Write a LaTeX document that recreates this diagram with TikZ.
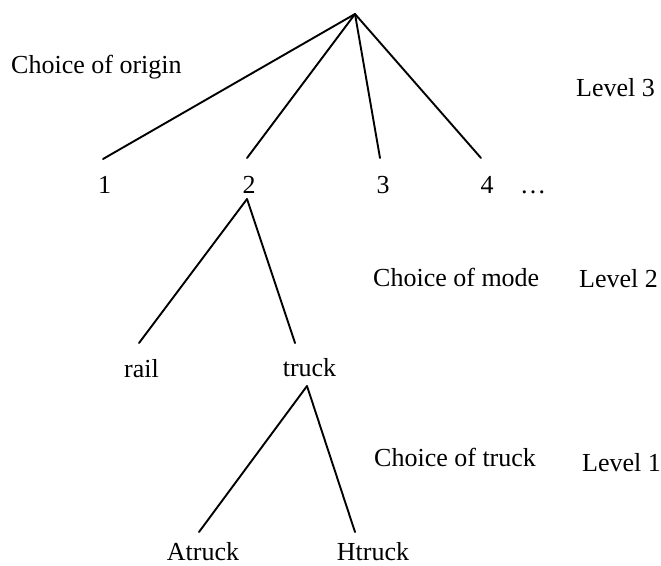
\documentclass[tikz,border=0pt]{standalone}
\usepackage{fontspec}
\setmainfont{Liberation Serif}
\begin{document}
\begin{tikzpicture}[x=1pt,y=-1pt,
  lbl/.style={inner sep=0pt,font=\fontsize{26}{31}\selectfont},
  edge/.style={line width=1.9pt,line cap=round,line join=round}]
\useasboundingbox (0,0) rectangle (661,565);
% text
\node[lbl,anchor=base west] (corigin) at (11,73.5) {Choice of origin};
\node[lbl,anchor=base west] (lev3) at (576,96) {Level 3};
\node[lbl,anchor=base] (n1) at (104.5,193) {1};
\node[lbl,anchor=base] (n2) at (249,193) {2};
\node[lbl,anchor=base] (n3) at (383,193) {3};
\node[lbl,anchor=base] (n4) at (487,193) {4};
\node[lbl,anchor=base] (dots) at (533,193) {…};
\node[lbl,anchor=base west] (cmode) at (373,286) {Choice of mode};
\node[lbl,anchor=base west] (lev2) at (579,287) {Level 2};
\node[lbl,anchor=base] (rail) at (141.5,377) {rail};
\node[lbl,anchor=base] (truck) at (309.5,376) {truck};
\node[lbl,anchor=base west] (ctruck) at (374,466) {Choice of truck};
\node[lbl,anchor=base west] (lev1) at (582,471) {Level 1};
\node[lbl,anchor=base] (atruck) at (203,560) {Atruck};
\node[lbl,anchor=base] (htruck) at (373,560) {Htruck};
% connector points
\coordinate (root) at (355,14);
\coordinate (t1) at (103,159);
\coordinate (t2) at (247,158);
\coordinate (t3) at (380,158);
\coordinate (t4) at (481,158);
\coordinate (b2) at (247,199);
\coordinate (trail) at (139,343);
\coordinate (ttruck) at (295,343);
\coordinate (btruck) at (307,386);
\coordinate (tatruck) at (199,532);
\coordinate (thtruck) at (355,532);
% connectors
\draw[edge] (root) -- (t1);
\draw[edge] (root) -- (t2);
\draw[edge] (root) -- (t3);
\draw[edge] (root) -- (t4);
\draw[edge] (b2) -- (trail);
\draw[edge] (b2) -- (ttruck);
\draw[edge] (btruck) -- (tatruck);
\draw[edge] (btruck) -- (thtruck);
\end{tikzpicture}
\end{document}
